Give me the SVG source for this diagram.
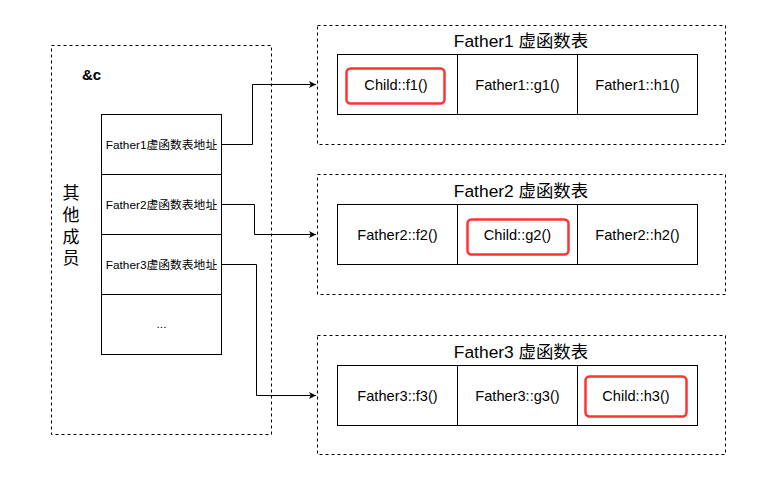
<svg xmlns="http://www.w3.org/2000/svg" width="767" height="495" viewBox="0 0 767 495">
<style>
.dash{fill:none;stroke:#000;stroke-width:1;stroke-dasharray:3 3}
.box{fill:#fff;stroke:#000;stroke-width:1}
.red{fill:none;stroke:#ff3333;stroke-width:2.5}
.t{font-family:"Liberation Sans","Noto Sans CJK SC",sans-serif;fill:#000;text-anchor:middle}
.cell{font-size:14.6px}
.slot{font-size:11.8px}
.title{font-size:17.4px}
.conn{fill:none;stroke:#000;stroke-width:1}
</style>
<defs>
<marker id="arr" markerWidth="8" markerHeight="8" refX="7" refY="4" orient="auto" markerUnits="userSpaceOnUse">
<path d="M0,0.5 L7,4 L0,7.5 L1.8,4 Z" fill="#000"/>
</marker>
</defs>
<rect width="767" height="495" fill="#fff"/>

<g id="object-c">
<rect class="dash" x="51.5" y="45.5" width="220" height="389"/>
<text class="t" x="91.5" y="80" style="font-size:15px;font-weight:bold">&amp;c</text>
<text class="t" x="71" y="199" style="font-size:17px">其</text>
<text class="t" x="71" y="221" style="font-size:17px">他</text>
<text class="t" x="71" y="242.5" style="font-size:17px">成</text>
<text class="t" x="71" y="264" style="font-size:17px">员</text>
</g>

<g id="vptr-stack">
<rect class="box" x="101.5" y="114.5" width="120" height="60"/>
<rect class="box" x="101.5" y="174.5" width="120" height="60"/>
<rect class="box" x="101.5" y="234.5" width="120" height="60"/>
<rect class="box" x="101.5" y="294.5" width="120" height="60"/>
<text class="t slot" x="161.5" y="148.5">Father1虚函数表地址</text>
<text class="t slot" x="161.5" y="208.5">Father2虚函数表地址</text>
<text class="t slot" x="161.5" y="268.5">Father3虚函数表地址</text>
<text class="t slot" x="161.5" y="328">...</text>
</g>

<g id="father1-vtable">
<rect class="dash" x="317.5" y="25.5" width="408" height="119"/>
<text class="t title" x="521" y="47">Father1 虚函数表</text>
<rect class="box" x="337.5" y="54.5" width="120" height="60"/>
<rect class="box" x="457.5" y="54.5" width="120" height="60"/>
<rect class="box" x="577.5" y="54.5" width="120" height="60"/>
<rect class="red" x="346.5" y="68.5" width="98" height="35" rx="4"/>
<text class="t cell" x="396" y="90">Child::f1()</text>
<text class="t cell" x="517.5" y="90">Father1::g1()</text>
<text class="t cell" x="637.5" y="90">Father1::h1()</text>
</g>

<g id="father2-vtable">
<rect class="dash" x="317.5" y="174.5" width="408" height="120"/>
<text class="t title" x="521" y="197">Father2 虚函数表</text>
<rect class="box" x="337.5" y="204.5" width="120" height="60"/>
<rect class="box" x="457.5" y="204.5" width="120" height="60"/>
<rect class="box" x="577.5" y="204.5" width="120" height="60"/>
<rect class="red" x="467.5" y="219.5" width="101" height="35" rx="4"/>
<text class="t cell" x="397.5" y="240">Father2::f2()</text>
<text class="t cell" x="517.5" y="240">Child::g2()</text>
<text class="t cell" x="637.5" y="240">Father2::h2()</text>
</g>

<g id="father3-vtable">
<rect class="dash" x="317.5" y="335.5" width="408" height="119"/>
<text class="t title" x="521" y="358">Father3 虚函数表</text>
<rect class="box" x="337.5" y="365.5" width="120" height="60"/>
<rect class="box" x="457.5" y="365.5" width="120" height="60"/>
<rect class="box" x="577.5" y="365.5" width="120" height="60"/>
<rect class="red" x="585.5" y="376.5" width="101" height="40" rx="4"/>
<text class="t cell" x="397.5" y="401">Father3::f3()</text>
<text class="t cell" x="517.5" y="401">Father3::g3()</text>
<text class="t cell" x="636" y="401">Child::h3()</text>
</g>

<g id="connectors">
<path class="conn" d="M221.5,144.5 H252.5 V84.5 H316" marker-end="url(#arr)"/>
<path class="conn" d="M221.5,204.5 H254.5 V234.5 H316" marker-end="url(#arr)"/>
<path class="conn" d="M221.5,264.5 H256.5 V395.5 H316" marker-end="url(#arr)"/>
</g>
</svg>
